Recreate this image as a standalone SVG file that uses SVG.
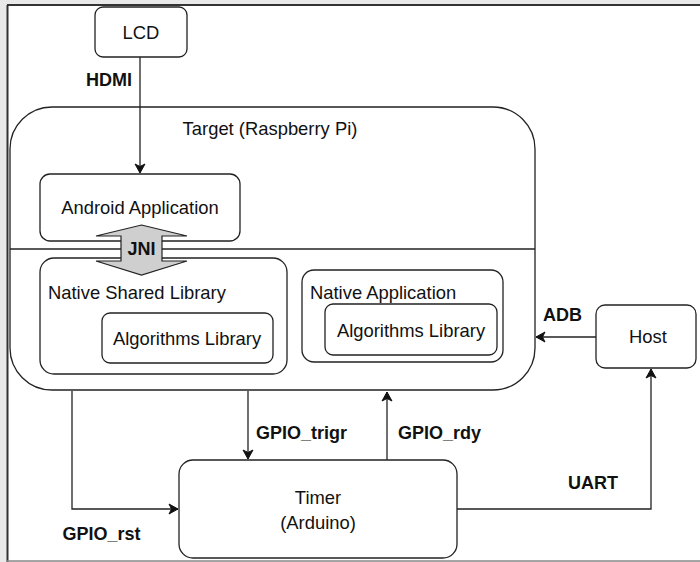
<svg xmlns="http://www.w3.org/2000/svg" width="700" height="562" viewBox="0 0 700 562">
<defs>
<style>
.box{fill:#fff;stroke:#222;stroke-width:1.3}
.t{font-family:"Liberation Sans",Arial,sans-serif;font-size:18.4px;fill:#111;text-anchor:middle;dominant-baseline:central}
.tl{text-anchor:start}
.lbl{font-family:"Liberation Sans",Arial,sans-serif;font-size:18px;font-weight:bold;fill:#111;text-anchor:middle;dominant-baseline:central}
.conn{fill:none;stroke:#222;stroke-width:1.3}
</style>
<marker id="ah" markerWidth="12" markerHeight="12" refX="10" refY="6" orient="auto" markerUnits="userSpaceOnUse">
<path d="M1,1 L10,6 L1,11 L3.5,6 Z" fill="#111" stroke="#111" stroke-width="1"/>
</marker>
</defs>
<rect x="0" y="0" width="700" height="562" fill="#e9e9e9"/>
<rect x="7.5" y="5" width="692.5" height="556" fill="#fff"/>
<line x1="7" y1="5" x2="700" y2="5" stroke="#333" stroke-width="2"/>
<line x1="7.5" y1="5" x2="7.5" y2="562" stroke="#333" stroke-width="2"/>
<line x1="7" y1="561" x2="700" y2="561" stroke="#888" stroke-width="1.5"/>

<g id="target">
<rect class="box" x="10" y="107" width="525" height="283" rx="42"/>
<line x1="10" y1="249" x2="535" y2="249" stroke="#222" stroke-width="1.3"/>
<text class="t" x="270" y="128">Target (Raspberry Pi)</text>
</g>
<g id="lcd">
<rect class="box" x="95" y="7" width="92" height="50" rx="8"/>
<text class="t" x="141" y="32">LCD</text>
</g>
<g id="android-app">
<rect class="box" x="40" y="174" width="200" height="67" rx="10"/>
<text class="t" x="140" y="207">Android Application</text>
</g>
<g id="native-shared-lib">
<rect class="box" x="40" y="258" width="247" height="116" rx="14"/>
<text class="t tl" x="48" y="292">Native Shared Library</text>
</g>
<g id="algo-lib-1">
<rect class="box" x="102" y="313" width="171" height="50" rx="8"/>
<text class="t" x="187" y="338">Algorithms Library</text>
</g>
<g id="native-app">
<rect class="box" x="302" y="270" width="201" height="92" rx="12"/>
<text class="t tl" x="310" y="292">Native Application</text>
</g>
<g id="algo-lib-2">
<rect class="box" x="325" y="304" width="172" height="51" rx="8"/>
<text class="t" x="411" y="330">Algorithms Library</text>
</g>
<g id="host">
<rect class="box" x="596" y="305" width="100" height="63" rx="9"/>
<text class="t" x="648" y="336">Host</text>
</g>
<g id="timer">
<rect class="box" x="179" y="460" width="278" height="98" rx="14"/>
<text class="t" x="318" y="497">Timer</text>
<text class="t" x="318" y="522">(Arduino)</text>
</g>
<g id="jni">
<path d="M141.5,225 L187,236 L162,236 L162,261 L187,261 L141.5,275 L96,261 L121,261 L121,236 L96,236 Z" fill="#cfcfcf" stroke="#222" stroke-width="1.2"/>
<text class="lbl" x="141.5" y="249">JNI</text>
</g>

<g id="connectors">
<line class="conn" x1="140" y1="57" x2="140" y2="173" marker-end="url(#ah)"/>
<line class="conn" x1="596" y1="337" x2="536" y2="337" marker-end="url(#ah)"/>
<line class="conn" x1="248" y1="391" x2="248" y2="459" marker-end="url(#ah)"/>
<line class="conn" x1="387" y1="460" x2="387" y2="392" marker-end="url(#ah)"/>
<polyline class="conn" points="72,391 72,509 178,509" marker-end="url(#ah)"/>
<polyline class="conn" points="457,509 651,509 651,369" marker-end="url(#ah)"/>
<text class="lbl" x="109" y="80">HDMI</text>
<text class="lbl" x="562.5" y="315">ADB</text>
<text class="lbl" x="301.5" y="433">GPIO_trigr</text>
<text class="lbl" x="439.5" y="433">GPIO_rdy</text>
<text class="lbl" x="101.5" y="534">GPIO_rst</text>
<text class="lbl" x="593" y="483">UART</text>
</g>
</svg>
